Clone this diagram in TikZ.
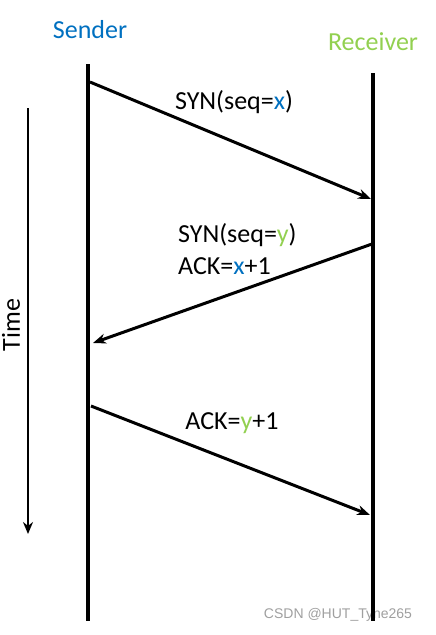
\documentclass[tikz,border=0pt]{standalone}
\usepackage{fontspec}
\setmainfont{Carlito}
\newfontfamily\markfont{Liberation Sans}
\usetikzlibrary{arrows.meta}
\definecolor{sendblue}{RGB}{0,112,192}
\definecolor{recvgreen}{RGB}{146,208,80}
\newcommand{\bigtxt}{\fontsize{26}{32}\selectfont}

\begin{document}
\begin{tikzpicture}[x=1pt,y=-1pt]
      \tikzset{lane/.style={line width=4pt},
        msg/.style={line width=3pt,-{Stealth[length=13pt,width=10pt]}},
        lbl/.style={font=\bigtxt,inner sep=0pt}}
      \useasboundingbox (0,0) rectangle (436,635);
      % lanes
      \node[lbl,text=sendblue] (sender) at (90,30) {Sender};
      \node[lbl,text=recvgreen] (receiver) at (373,42) {Receiver};
      \coordinate (stop) at (88,64);
      \coordinate (sbot) at (88,621);
      \coordinate (rtop) at (373,73);
      \coordinate (rbot) at (373,621);
      \node[text=gray!75,font=\markfont\fontsize{14}{16}\selectfont,inner sep=0pt] (mark) at (338,615) {CSDN @HUT\_Tyne265};
      \draw[lane] (stop) -- (sbot);
      \draw[lane] (rtop) -- (rbot);
      % time axis
      \coordinate (ttop) at (28,108);
      \coordinate (tbot) at (28,534);
      \draw[line width=2.5pt,-{Stealth[length=12pt,width=10pt]}] (ttop) -- (tbot);
      \node[lbl,rotate=90] (time) at (11,325) {Time};
      % messages
      \coordinate (m1a) at (90,82);
      \coordinate (m1b) at (371,199);
      \coordinate (m2a) at (372,244);
      \coordinate (m2b) at (93,343);
      \coordinate (m3a) at (91,406);
      \coordinate (m3b) at (370,515);
      \draw[msg] (m1a) -- (m1b);
      \draw[msg] (m2a) -- (m2b);
      \draw[msg] (m3a) -- (m3b);
      \node[lbl] (syn) at (234,102) {SYN(seq=\textcolor{sendblue}{x})};
      \node[lbl,align=left,anchor=west] (synack) at (178,249) {SYN(seq=\textcolor{recvgreen}{y})\\ACK=\textcolor{sendblue}{x}+1};
      \node[lbl] (ack) at (232,423) {ACK=\textcolor{recvgreen}{y}+1};
    \end{tikzpicture}
\end{document}
